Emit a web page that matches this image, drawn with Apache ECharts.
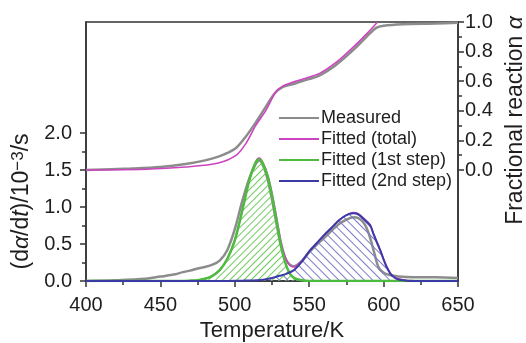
<!DOCTYPE html>
<html>
<head>
<meta charset="utf-8">
<script src="https://cdn.jsdelivr.net/npm/echarts@6/dist/echarts.min.js"></script>
<style>
html,body{margin:0;padding:0;background:#fff;}
#chart{width:526px;height:343px;}
</style>
</head>
<body>
<div id="chart"></div>
<script>
// ---- data (Temperature / K, value) ----
const measuredRate = [[400,0.0],[420,0.01],[440,0.03],[450,0.06],[460,0.09],[465,0.12],[470,0.14],[475,0.17],[480,0.19],[485,0.22],[490,0.28],[495,0.42],[500,0.70],[505,1.08],[510,1.40],[514,1.58],[516.5,1.63],[519,1.56],[522,1.38],[525,1.10],[528,0.78],[531,0.48],[534,0.30],[537,0.22],[540,0.20],[545,0.27],[550,0.39],[555,0.49],[560,0.58],[565,0.68],[570,0.77],[575,0.83],[580,0.86],[583,0.85],[586,0.80],[588.5,0.72],[591,0.58],[594,0.36],[596.5,0.19],[600,0.11],[604,0.08],[610,0.06],[620,0.05],[635,0.05],[650,0.04]];
const fittedTotalRate = [[400,0],[460,0],[470,0.005],[475,0.01],[480,0.03],[485,0.07],[490,0.15],[495,0.30],[500,0.55],[505,0.955],[510,1.385],[514,1.61],[516.5,1.66],[519,1.595],[522,1.44],[525,1.19],[528,0.87],[531,0.54],[534,0.32],[537,0.21],[540,0.19],[545,0.27],[550,0.40],[555,0.51],[560,0.62],[565,0.72],[570,0.82],[575,0.89],[579.5,0.925],[583,0.91],[587,0.84],[591,0.76],[593,0.655],[595.5,0.53],[597.6,0.43],[600,0.30],[602,0.20],[604.5,0.11],[607,0.06],[610,0.03],[615,0.01],[620,0.005],[650,0]];
const fittedStep1Rate = [[400,0],[460,0],[470,0.005],[475,0.01],[480,0.03],[485,0.07],[490,0.15],[495,0.30],[500,0.55],[505,0.95],[510,1.38],[514,1.60],[516.5,1.645],[519,1.58],[522,1.42],[525,1.15],[528,0.82],[531,0.48],[534,0.24],[537,0.10],[540,0.04],[545,0.01],[550,0],[650,0]];
const fittedStep2Rate = [[400,0],[490,0],[505,0.005],[515,0.01],[520,0.02],[525,0.04],[530,0.07],[535,0.10],[540,0.15],[545,0.26],[550,0.40],[555,0.51],[560,0.62],[565,0.72],[570,0.82],[575,0.89],[579.5,0.915],[583,0.90],[587,0.83],[591,0.75],[593,0.645],[595.5,0.52],[597.6,0.42],[600,0.29],[602,0.19],[604.5,0.10],[607,0.05],[610,0.02],[615,0.005],[620,0],[650,0]];
const measuredAlpha = [[400,0],[430,0.01],[450,0.02],[467,0.04],[480,0.065],[489,0.09],[495,0.115],[501,0.15],[507,0.22],[514,0.32],[521,0.43],[527,0.52],[532,0.56],[537,0.575],[545,0.60],[557,0.64],[568,0.71],[579.5,0.81],[588.5,0.90],[595,0.96],[600,0.975],[613,0.985],[635,0.99],[650,0.995]];
const fittedTotalAlpha = [[400,0],[440,0.005],[467,0.02],[489,0.047],[501,0.10],[507.5,0.18],[514,0.30],[521,0.405],[527.7,0.53],[532,0.565],[537,0.586],[545.8,0.615],[557,0.653],[568.5,0.73],[579.6,0.83],[588.6,0.92],[596,1.0]];

const xTicks = [400,450,500,550,600,650];
const leftTicks = [0,0.5,1.0,1.5,2.0];
const leftMinorTicks = [0.25,0.75,1.25,1.75];
const rightTicks = [0,0.2,0.4,0.6,0.8,1.0];
const rightMinorTicks = [0.1,0.3,0.5,0.7,0.9];
const legendNames = ['Measured','Fitted (total)','Fitted (1st step)','Fitted (2nd step)'];

const FONT = "'Liberation Sans', Arial, Helvetica, sans-serif";
const C_GRAY = '#8c8c8c', C_PINK = '#cc44c0', C_GREEN = '#4dbb3e', C_BLUE = '#3b3ba6';
const TXT = '#1e1e1e';

function hatchDecal(color, rot, gap) {
  return {symbol: 'rect', symbolSize: 1, color: color, backgroundColor: 'rgba(255,255,255,0)',
          dashArrayX: [[1, 0]], dashArrayY: [1, gap], rotation: rot, maxTileWidth: 512, maxTileHeight: 512};
}

const chart = echarts.init(document.getElementById('chart'), null, {renderer:'canvas'});
chart.setOption({
  animation: false,
  backgroundColor: '#fff',
  textStyle: {fontFamily: FONT},
  grid: {left: 86, right: 68, top: 22, bottom: 62, outerBoundsMode: 'none', containLabel: false,
         show: true, borderColor: '#333', borderWidth: 1.5, backgroundColor: 'transparent'},
  legend: {
    data: legendNames,
    orient: 'vertical', left: 274, top: 104,
    itemWidth: 40, itemHeight: 2, itemGap: 3, icon: 'rect',
    itemStyle: {decal: 'none'},
    textStyle: {fontSize: 18, color: TXT, fontFamily: FONT, lineHeight: 18, padding: [0,0,0,-3]},
    selectedMode: false
  },
  xAxis: {
    type: 'value', min: 400, max: 650, interval: 50,
    name: 'Temperature/K', nameLocation: 'middle', nameGap: 37,
    nameTextStyle: {fontSize: 22, color: TXT, fontFamily: FONT},
    axisLine: {lineStyle: {color: '#333', width: 1.5}},
    axisTick: {show: true, length: 6, lineStyle: {color: '#333', width: 1.5}},
    minorTick: {show: true, splitNumber: 2, length: 4, lineStyle: {color: '#333', width: 1.5}},
    axisLabel: {fontSize: 20, color: TXT, margin: 14, fontFamily: FONT},
    splitLine: {show: false}
  },
  yAxis: [
    {
      type: 'value', position: 'left', min: 0, max: 3.5,
      name: '(d{i|α}/d{i|t})/10{sup|−3}/s', nameLocation: 'middle', nameRotate: 90, nameGap: 50,
      nameTextStyle: {fontSize: 23, color: TXT, fontFamily: FONT, padding: [0,100,0,0],
        rich: {i: {fontSize: 23, fontStyle: 'italic', color: TXT, fontFamily: FONT},
               sup: {fontSize: 17, color: TXT, verticalAlign: 'top', fontFamily: FONT}}},
      axisLine: {show: true, lineStyle: {color: '#333', width: 1.5}},
      axisTick: {show: true, length: 6, customValues: leftTicks, lineStyle: {color: '#333', width: 1.5}},
      axisLabel: {fontSize: 20, color: TXT, margin: 14, customValues: leftTicks, formatter: v => v.toFixed(1), fontFamily: FONT},
      splitLine: {show: false}
    },
    {
      type: 'value', position: 'left', min: 0, max: 3.5,
      axisLine: {show: false},
      axisTick: {show: true, length: 4, customValues: leftMinorTicks, lineStyle: {color: '#333', width: 1.5}},
      axisLabel: {show: false, customValues: leftMinorTicks},
      splitLine: {show: false}
    },
    {
      type: 'value', position: 'right', min: -0.75, max: 1.0,
      name: 'Fractional reaction {i|α}', nameLocation: 'middle', nameRotate: 90, nameGap: 45,
      nameTextStyle: {fontSize: 23, color: TXT, fontFamily: FONT, padding: [0,0,0,62],
        rich: {i: {fontSize: 23, fontStyle: 'italic', color: TXT, fontFamily: FONT}}},
      axisLine: {show: true, lineStyle: {color: '#333', width: 1.5}},
      axisTick: {show: true, length: 6, customValues: rightTicks, lineStyle: {color: '#333', width: 1.5}},
      axisLabel: {fontSize: 20, color: TXT, margin: 7, customValues: rightTicks, formatter: v => v.toFixed(1), fontFamily: FONT},
      splitLine: {show: false}
    },
    {
      type: 'value', position: 'right', min: -0.75, max: 1.0,
      axisLine: {show: false},
      axisTick: {show: true, length: 4, customValues: rightMinorTicks, lineStyle: {color: '#333', width: 1.5}},
      axisLabel: {show: false, customValues: rightMinorTicks},
      splitLine: {show: false}
    }
  ],
  series: [
    {name: 'Measured', type: 'line', data: measuredRate, yAxisIndex: 0, smooth: 0.3, symbol: 'none',
     lineStyle: {color: C_GRAY, width: 2.5}, itemStyle: {color: C_GRAY}, z: 2},
    {name: 'Fitted (total)', type: 'line', data: fittedTotalRate, yAxisIndex: 0, smooth: 0.3, symbol: 'none',
     lineStyle: {color: C_PINK, width: 1.6}, itemStyle: {color: C_PINK}, z: 3},
    {name: 'Fitted (1st step)', type: 'line', data: fittedStep1Rate, yAxisIndex: 0, smooth: 0.3, symbol: 'none',
     lineStyle: {color: C_GREEN, width: 2.5}, itemStyle: {color: C_GREEN, decal: hatchDecal('#6fcb5e', -Math.PI / 4, 4)},
     areaStyle: {color: 'rgba(255,255,255,0)', opacity: 1}, z: 4},
    {name: 'Fitted (2nd step)', type: 'line', data: fittedStep2Rate, yAxisIndex: 0, smooth: 0.3, symbol: 'none',
     lineStyle: {color: C_BLUE, width: 2}, itemStyle: {color: C_BLUE, decal: hatchDecal('#7a7ac8', Math.PI / 4, 5)},
     areaStyle: {color: 'rgba(255,255,255,0)', opacity: 1}, z: 4},
    {name: 'Measured', type: 'line', data: measuredAlpha, yAxisIndex: 2, smooth: 0.3, symbol: 'none',
     lineStyle: {color: C_GRAY, width: 2.5}, itemStyle: {color: C_GRAY}, z: 2},
    {name: 'Fitted (total)', type: 'line', data: fittedTotalAlpha, yAxisIndex: 2, smooth: 0.3, symbol: 'none',
     lineStyle: {color: C_PINK, width: 1.6}, itemStyle: {color: C_PINK}, z: 3}
  ]
});
</script>
</body>
</html>
